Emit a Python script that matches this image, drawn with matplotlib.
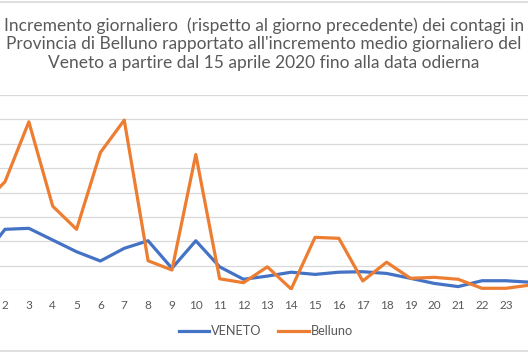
import matplotlib
matplotlib.use("Agg")
import matplotlib.pyplot as plt
from matplotlib.lines import Line2D

# Data (gridline step = 1 unit, no y labels visible)
giorni = list(range(1, 25))
veneto = [1.23, 2.49, 2.53, 2.05, 1.57, 1.19, 1.71, 2.02, 0.89, 2.02, 0.95, 0.44,
          0.57, 0.73, 0.64, 0.73, 0.75, 0.68, 0.48, 0.27, 0.14, 0.38, 0.38, 0.32]
belluno = [3.45, 4.44, 6.90, 3.44, 2.49, 5.64, 6.97, 1.20, 0.82, 5.56, 0.46, 0.30,
           0.95, 0.04, 2.16, 2.12, 0.37, 1.14, 0.48, 0.52, 0.44, 0.07, 0.07, 0.20]
series_names = ["VENETO", "Belluno"]
title = ("Incremento giornaliero  (rispetto al giorno precedente) dei contagi in\n"
         "Provincia di Belluno rapportato all'incremento medio giornaliero del\n"
         "Veneto a partire dal 15 aprile 2020 fino alla data odierna")

BLUE = "#4472C4"
ORANGE = "#ED7D31"
GRID = "#d9d9d9"
TXT = "#595959"
FONT = ["Lato", "DejaVu Sans"]

W, H = 528, 352
fig = plt.figure(figsize=(W / 100, H / 100), dpi=100)

# plot area: y=0 at pixel 290, y=8 at pixel 95; category 2 at x=5, step 23.85 px
ax = fig.add_axes([0, (H - 290) / H, 1, (290 - 95) / H])
step = 23.85

ax.plot(giorni, veneto, color=BLUE, lw=2.3, solid_joinstyle="round")
ax.plot(giorni, belluno, color=ORANGE, lw=2.3, solid_joinstyle="round")

ax.set_yticks(range(0, 9))
ax.yaxis.grid(True, color=GRID, lw=0.9)
ax.set_axisbelow(True)
for s in ax.spines.values():
    s.set_visible(False)
ax.tick_params(axis="y", left=False, labelleft=False)
shown = giorni[1:23]  # labels 2..23 fall inside the cropped view
ax.set_xticks(shown)
ax.set_xticklabels([str(g) for g in shown], fontsize=8.5, color=TXT, family=FONT)
ax.tick_params(axis="x", length=0, pad=7)
ax.set_xlim(2 - 5 / step, 2 + (W - 5) / step)
ax.set_ylim(0, 8)

fig.text(0.5, 1 - 44 / H, title, ha="center", va="center", fontsize=12.5,
         color=TXT, family=FONT, linespacing=1.2)

# legend
handles = [Line2D([], [], color=BLUE, lw=2.3), Line2D([], [], color=ORANGE, lw=2.3)]
fig.legend(handles, series_names, loc="center", bbox_to_anchor=(266 / W, 1 - 331 / H),
           ncol=2, frameon=False, handlelength=2.4, handletextpad=0.15,
           columnspacing=1.3, prop={"family": FONT, "size": 9.2}, labelcolor=TXT)

# chart border lines at top and bottom
fig.add_artist(Line2D([0, 1], [1 - 1.5 / H, 1 - 1.5 / H], color=GRID, lw=1.2))
fig.add_artist(Line2D([0, 1], [1 - 350.5 / H, 1 - 350.5 / H], color=GRID, lw=1.2))

fig.savefig("out.png", dpi=100)
